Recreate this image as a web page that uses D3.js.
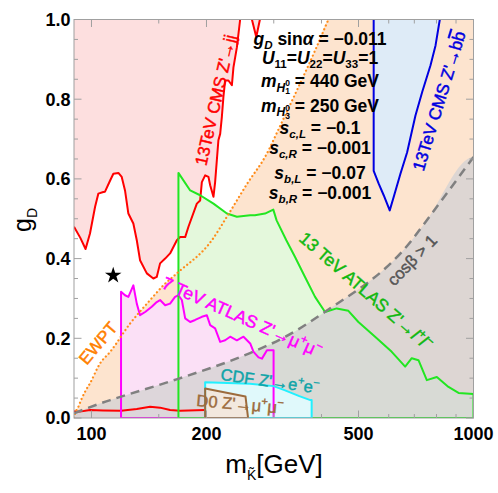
<!DOCTYPE html>
<html><head><meta charset="utf-8">
<script src="https://cdn.jsdelivr.net/npm/d3@7"></script>
<style>body{margin:0;background:#fff} text{font-family:"Liberation Sans",Arial,sans-serif}</style>
</head><body><svg id="c" width="498" height="493"></svg>
<script>
// ---------- data ----------
const xDomain = [90, 1000];
const yDomain = [0, 1];
const xTicks = [100, 200, 500, 1000];
const xMinorTicks = [150, 300, 400, 600, 700, 800, 900];
const yTicks = [0, 0.2, 0.4, 0.6, 0.8, 1.0];
const yMinorStep = 0.05;

// 13 TeV CMS Z'->jj (upper contour)
const cmsJJ = [[90,0.48],[93.5,0.452],[96.5,0.424],[99.1,0.463],[102.2,0.53],[104.2,0.563],[107.4,0.567],[108.5,0.568],
 [111.9,0.596],[114.1,0.613],[117.6,0.615],[120,0.605],[122.4,0.571],[124.9,0.513],[128.7,0.488],[131.4,0.446],
 [134,0.396],[139.6,0.363],[145.2,0.35],[148.2,0.354],[151.2,0.388],[155.9,0.4],[160.6,0.413],[167.3,0.446],
 [170.6,0.454],[175.9,0.454],[179.4,0.48],[188.7,0.538],[192.5,0.546],[194.5,0.592],[198.4,0.609],[202.4,0.605],
 [204.5,0.584],[208.6,0.555],[210.7,0.592],[212.9,0.647],[214.9,0.697],[217.2,0.713],[219.4,0.755],[221.5,0.806],
 [223.8,0.847],[228.3,0.847],[233.1,0.835],[235.3,0.88],[240.2,0.93],[245,1.0]];
const cmsJJV = [[263,1.0],[270,0.956],[276,1.0]];
const cmsJJLow = [[90,0.017],[93.3,0.016],[99.1,0.02],[107.2,0.019],[119.5,0.018],[131.4,0.0225],[142.4,0.028],
 [151.2,0.026],[160.6,0.02],[170.6,0.018],[198.4,0.02]];

// 13 TeV ATLAS Z'->ll
const atlasLL = [[168.9,0],[168.9,0.615],[181.3,0.571],[192.5,0.559],[208.6,0.538],[226.2,0.513],[240.2,0.505],
 [260.3,0.509],[267.8,0.509],[284.6,0.513],[299.2,0.523],[305.2,0.496],[323.6,0.446],[341.1,0.404],[362.2,0.354],
 [384.8,0.304],[408.7,0.266],[438.4,0.275],[470.4,0.269],[499.7,0.241],[552.6,0.204],[610.9,0.166],[662.4,0.129],
 [689.2,0.15],[717.8,0.145],[754.8,0.095],[801.7,0.103],[860.1,0.078],[913.7,0.063],[1000,0.06],[1000,0]];

// 7 TeV ATLAS Z'->mu mu
const atlasMM = [[119.5,0],[119.5,0.317],[122.4,0.308],[124.9,0.304],[128.7,0.333],[131.4,0.287],[134,0.258],
 [138.2,0.266],[143.8,0.279],[148.2,0.291],[151.2,0.296],[155.9,0.283],[160.6,0.287],[165.5,0.304],[168.9,0.308],
 [172.4,0.296],[175.9,0.25],[181.3,0.241],[186.8,0.246],[194.5,0.254],[200.4,0.258],[204.5,0.233],[210.7,0.225],
 [217.2,0.191],[223.8,0.195],[230.7,0.204],[240.2,0.195],[250,0.204],[260.3,0.187],[265.6,0.166],[273.7,0.152],
 [279.4,0.149],[288,0.17],[299.7,0.17],[299.7,0]];

// 13 TeV CMS Z'->bb
const cmsBB = [[547.9,1.0],[547.9,0.62],[564.7,0.588],[582,0.559],[603.5,0.521],[618.4,0.555],[643.8,0.613],
 [670.4,0.667],[704.8,0.759],[734,0.818],[771.8,0.885],[795.5,0.935],[811.4,0.985],[816.4,1.0]];

// CDF Z'->ee
const cdfEE = [[198.4,0],[198.4,0.09],[260,0.086],[299.7,0.08],[320,0.07],[350,0.055],[374,0.045],[377,0.045],[377,0]];
// D0 Z'->mu mu
const d0MM = [[198.4,0],[198.4,0.074],[253,0.054],[257,0]];

// cos(beta) > 1 boundary
const cosBeta = [[90,0.012],[112,0.045],[119,0.053],[167,0.097],[260,0.163],[322,0.204],[408,0.266],
 [689,0.446],[749,0.492],[1000,0.655]];

// EWPT boundary
const ewpt = [[90,0],[90.5,0.01],[92.4,0.028],[94.3,0.049],[96.2,0.066],[99.1,0.087],[105.3,0.137],[111.9,0.166],
 [126.2,0.237],[142.4,0.296],[154.3,0.333],[167.3,0.363],[206.6,0.446],[226.2,0.505],[257.2,0.592],[284.6,0.655],
 [313.9,0.739],[347.9,0.83],[384.8,0.922],[417,1.0]];

const benchmark = [114, 0.358];

// ---------- drawing ----------
const svg = d3.select("#c");
const L = 74, T = 19.5, R = 473.5, B = 418;
const x = d3.scaleLog().domain(xDomain).range([L, R]);
const y = d3.scaleLinear().domain(yDomain).range([B, T]);

svg.append("defs").append("clipPath").attr("id","clip").append("rect")
  .attr("x",L).attr("y",T).attr("width",R-L).attr("height",B-T);
const g = svg.append("g").attr("clip-path","url(#clip)");

const line = d3.line().x(d=>x(d[0])).y(d=>y(d[1]));
const smooth = d3.line().x(d=>x(d[0])).y(d=>y(d[1])).curve(d3.curveMonotoneX);

function fill(pts, color, op=1, gen=line){
  g.append("path").attr("d", gen(pts)+"Z").attr("fill", color).attr("fill-opacity", op).attr("stroke","none");
}
function stroke(pts, color, w, closed=false, dash=null, gen=line){
  const p = g.append("path").attr("d", gen(pts)+(closed?"Z":"")).attr("fill","none")
    .attr("stroke", color).attr("stroke-width", w).attr("stroke-linejoin","round");
  if(dash) p.attr("stroke-dasharray", dash);
  return p;
}

// fills
fill(ewpt.concat([[1000,1.2],[1000,0]]), "#fde4cf", 1, smooth);
fill(cmsJJ.concat([[90,1]]), "#fddfdf");
fill(cmsJJV, "#fddfdf");
fill(cmsJJLow.concat([[198.4,0],[90,0]]), "#f9d8dc");
fill(atlasLL, "#e4f8dc");
fill(atlasMM, "#fbe0f6");
fill(cmsBB, "#deebf7");
fill(cosBeta.concat([[1000,0],[90,0]]), "#d5d3d3", 0.82, smooth);
fill(cdfEE, "#e0f9fb");
fill(d0MM, "#f2e8de");

// lines
stroke(cmsJJ, "#ff0000", 2);
stroke(cmsJJV, "#ff0000", 2);
stroke(cmsJJLow, "#ff0000", 2);
stroke(atlasMM, "#ff00ff", 2, true);
stroke(atlasLL, "#22e622", 2, true);
stroke(cmsBB, "#0000e0", 2);
stroke(cdfEE, "#22f0ff", 2, true);
stroke(d0MM, "#9c6b3c", 2, true);
stroke(ewpt, "#ff8c1a", 2.2, false, "0.1,4", smooth).attr("stroke-linecap","round");
stroke(cosBeta, "#808080", 2.5, false, "9,6", smooth);

// benchmark star
svg.append("path").attr("d", d3.symbol(d3.symbolStar).size(85)())
  .attr("transform", `translate(${x(benchmark[0])},${y(benchmark[1])})`).attr("fill","#000");

// ---------- rich text helper ----------
function rich(sel, parts, fs){
  let cur = 0;
  parts.forEach(p=>{
    const s = p[0], o = p[1]||{};
    const size = o.size || ((o.sub||o.sup) ? fs*0.66 : fs);
    const off = (o.off!==undefined) ? o.off : (o.sub ? fs*0.25 : (o.sup ? -fs*0.42 : 0));
    const ts = sel.append("tspan").text(s).attr("font-size", size).attr("dy", off-cur);
    if(o.it) ts.attr("font-style","italic");
    if(o.dx) ts.attr("dx", o.dx);
    if(o.over) ts.style("text-decoration","overline");
    cur = off;
  });
}
function label(parts, cx, cy, ang, color, fs){
  const t = svg.append("text").attr("transform",`translate(${cx},${cy}) rotate(${ang})`)
    .attr("x",0).attr("y",0.35*fs).attr("text-anchor","middle").attr("fill",color)
    .attr("stroke",color).attr("stroke-width",0.45)
    .attr("font-size",fs);
  rich(t, parts, fs);
  return t;
}

label([["13TeV CMS Z'→jj"]], 215.5, 100, -77, "#ff0000", 17);
label([["13TeV CMS Z'→b"],["b",{over:true}]], 439, 101, -73, "#0000e0", 17);
label([["7 TeV ATLAS Z'→μ"],["+",{sup:true}],["μ"],["−",{sup:true}]], 242, 317, 24, "#ff00ff", 17.5);
label([["13 TeV ATLAS Z'→"],["l",{it:true}],["+",{sup:true}],["l",{it:true}],["−",{sup:true}]], 366, 291, 41, "#10b810", 17.5);
label([["cosβ > 1"]], 412, 260, -46, "#555555", 16.5);
label([["EWPT"]], 98, 343, -50, "#ff8000", 17);
label([["CDF Z'→e"],["+",{sup:true}],["e"],["−",{sup:true}]], 270, 381, 8, "#10a4a8", 16.5);
label([["D0 Z'→μ"],["+",{sup:true}],["μ"],["−",{sup:true}]], 240, 404, 5, "#9c6b3c", 16.5);

// parameter block
const pfs = 17.5;
const params = [
  [["g",{it:true}],["D",{sub:true,it:true}],[" sin"],["α",{it:true}],[" = −0.011"]],
  [["U",{it:true}],["11",{sub:true}],["="],["U",{it:true}],["22",{sub:true}],["="],["U",{it:true}],["33",{sub:true}],["=1"]],
  [["m",{it:true}],["H",{it:true,size:12,off:4.5}],["0",{size:8.5,off:-1}],["1",{size:8.5,off:7,dx:-4.7}],[" = 440 GeV"]],
  [["m",{it:true}],["H",{it:true,size:12,off:4.5}],["0",{size:8.5,off:-1}],["3",{size:8.5,off:7,dx:-4.7}],[" = 250 GeV"]],
  [["s",{it:true}],["c,L",{sub:true,it:true}],[" = −0.1"]],
  [["s",{it:true}],["c,R",{sub:true,it:true}],[" = −0.001"]],
  [["s",{it:true}],["b,L",{sub:true,it:true}],[" = −0.07"]],
  [["s",{it:true}],["b,R",{sub:true,it:true}],[" = −0.001"]]
];
const pBase = [45, 63.5, 87, 111.5, 133.5, 153.5, 178.5, 198.5];
params.forEach((p,i)=>{
  const t = svg.append("text").attr("x",320).attr("y",pBase[i]).attr("text-anchor","middle")
    .attr("font-size",pfs).attr("font-weight","bold").attr("fill","#000");
  rich(t, p, pfs);
});

// ---------- frame and ticks ----------
const frameColor = "#a0a0a0";
const ax = svg.append("g");
ax.append("rect").attr("x",L).attr("y",T).attr("width",R-L).attr("height",B-T)
  .attr("fill","none").attr("stroke",frameColor).attr("stroke-width",1);
function tickX(v, len){
  ax.append("line").attr("x1",x(v)).attr("x2",x(v)).attr("y1",B).attr("y2",B-len).attr("stroke",frameColor);
  ax.append("line").attr("x1",x(v)).attr("x2",x(v)).attr("y1",T).attr("y2",T+len).attr("stroke",frameColor);
}
function tickY(v, len){
  ax.append("line").attr("x1",L).attr("x2",L+len).attr("y1",y(v)).attr("y2",y(v)).attr("stroke",frameColor);
  ax.append("line").attr("x1",R).attr("x2",R-len).attr("y1",y(v)).attr("y2",y(v)).attr("stroke",frameColor);
}
xTicks.forEach(v=>tickX(v,7.5));
xMinorTicks.forEach(v=>tickX(v,4));
d3.range(0, 1.0001, yMinorStep).forEach(v=>{
  const major = yTicks.some(t=>Math.abs(t-v)<1e-6);
  tickY(v, major?7.5:4);
});
xTicks.forEach(v=>{
  ax.append("text").attr("x",x(v)).attr("y",440).attr("text-anchor","middle")
    .attr("font-size",18).attr("font-weight","bold").text(v);
});
yTicks.forEach(v=>{
  ax.append("text").attr("x",70.5).attr("y",y(v)+6.3).attr("text-anchor","end")
    .attr("font-size",18).attr("font-weight","bold").text(d3.format(".1f")(v));
});

// axis titles
const yl = svg.append("text").attr("transform","translate(31,220) rotate(-90)").attr("text-anchor","middle")
  .attr("font-size",25).attr("fill","#000");
rich(yl, [["g"],["D",{size:14,off:6}]], 25);
const xl = svg.append("text").attr("x",274).attr("y",473).attr("text-anchor","middle")
  .attr("font-size",26).attr("fill","#000");
rich(xl, [["m"],["K\u0303",{size:14,off:7}],["[GeV]",{off:0}]], 26);
</script></body></html>
